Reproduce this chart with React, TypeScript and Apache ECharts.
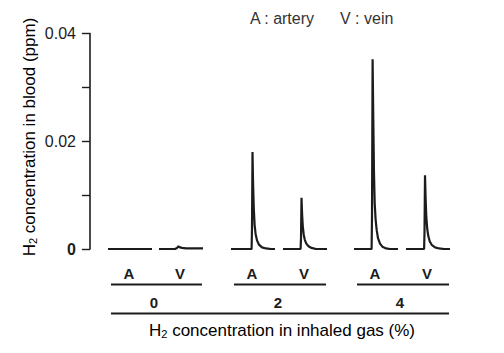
import React, { useEffect, useRef } from "react";
import * as echarts from "echarts";

// ---- data ----
const groupLabels = ["0", "2", "4"];
const vesselLabels = ["A", "V", "A", "V", "A", "V"];
const legendTexts = ["A : artery", "V : vein"];
const yTickValues = [0, 0.01, 0.02, 0.03, 0.04];
const yLabelValues = [0, 0.02, 0.04];
const yTitle = ["H", "2", " concentration in blood (ppm)"];
const xTitle = ["H", "2", " concentration in inhaled gas (%)"];

// time (relative) , H2 concentration (ppm)
const trace0A: number[][] = [[0, 0], [20, 0], [44, 0]];
const trace0V: number[][] = [[0, 0], [16, 0], [18, 0.0002], [19.5, 0.0005], [21, 0.0003], [23, 0.0002], [27, 0.0001], [44, 0.0001]];
const trace2A: number[][] = [[0, 0], [20.6, 0], [21, 0.004], [21.5, 0.018], [22.1, 0.012], [22.8, 0.0075], [23.6, 0.0045], [24.6, 0.0028], [26, 0.0016], [28, 0.0008], [31, 0.0003], [35, 0.0001], [40, 0], [44, 0]];
const trace2V: number[][] = [[0, 0], [17.6, 0], [18, 0.002], [18.5, 0.0095], [19.1, 0.0065], [19.8, 0.0042], [20.7, 0.0027], [21.8, 0.0017], [23.3, 0.001], [25.5, 0.0005], [28.5, 0.0002], [33, 0], [44, 0]];
const trace4A: number[][] = [[0, 0], [17.6, 0], [18, 0.006], [18.6, 0.0352], [19.3, 0.024], [20, 0.014], [20.7, 0.0085], [21.6, 0.0055], [22.7, 0.0035], [24, 0.002], [26, 0.001], [28.5, 0.0004], [32, 0.0001], [36, 0], [44, 0]];
const trace4V: number[][] = [[0, 0], [18.1, 0], [18.5, 0.003], [19, 0.0137], [19.6, 0.0095], [20.3, 0.006], [21.2, 0.0038], [22.3, 0.0024], [23.8, 0.0014], [26, 0.0007], [29, 0.0003], [33, 0.0001], [38, 0], [44, 0]];
const traces = [trace0A, trace0V, trace2A, trace2V, trace4A, trace4V];

// ---- layout ----
const W = 504;
const H = 353;
const FONT = "'Liberation Sans', Arial, sans-serif";
const INK = "#1c1c1c";
const plotTop = 33.5;
const plotBottom = 249;
const axisX = 90;
const traceLefts = [108, 159, 231, 283, 354, 406];
const traceWidth = 44;
const vesselLabelDx = 21;
const vesselLabelY = 273;
const groupLines = [[111, 202], [234, 326], [357, 449]];
const groupLineY = 284.5;
const groupLabelX = [154, 278, 400];
const groupLabelY = 302;
const bottomLine = [111, 449];
const bottomLineY = 313.5;
const xTitleX = 282;
const xTitleY = 330;
const yTitleX = 29;
const yTitleY = 137;
const legendX = [250, 340];
const legendY = 18;

export default function App() {
  const ref = useRef<HTMLDivElement>(null);
  useEffect(() => {
    if (!ref.current) return;
    const chart = echarts.init(ref.current, null, { renderer: "svg" });
    const gridH = plotBottom - plotTop;
    const grids: any[] = [
      { left: axisX, top: plotTop, width: 400, height: gridH },
      ...traceLefts.map((l) => ({ left: l, top: plotTop, width: traceWidth, height: gridH })),
    ];
    const xAxes: any[] = grids.map((_, i) => ({
      type: "value",
      gridIndex: i,
      min: 0,
      max: i === 0 ? 1 : 44,
      show: false,
    }));
    const yAxes: any[] = grids.map((_, i) =>
      i === 0
        ? {
            type: "value",
            gridIndex: 0,
            min: yTickValues[0],
            max: yTickValues[yTickValues.length - 1],
            interval: yTickValues[1] - yTickValues[0],
            splitLine: { show: false },
            axisLine: { show: true, lineStyle: { color: INK, width: 1.6 } },
            axisTick: { show: true, length: 8, lineStyle: { color: INK, width: 1.4 } },
            axisLabel: {
              margin: 14,
              fontFamily: FONT,
              fontSize: 16,
              color: INK,
              formatter: (v: number) => {
                const hit = yLabelValues.find((x) => Math.abs(x - v) < 1e-9);
                if (hit === undefined) return "";
                return hit === 0 ? "{b|0}" : "{r|" + String(hit) + "}";
              },
              rich: {
                b: { fontFamily: FONT, fontSize: 16, fontWeight: "bold", color: INK },
                r: { fontFamily: FONT, fontSize: 16, color: INK },
              },
            },
          }
        : { type: "value", gridIndex: i, min: 0, max: 0.04, show: false }
    );
    const series: any[] = traces.map((d, i) => ({
      type: "line",
      xAxisIndex: i + 1,
      yAxisIndex: i + 1,
      data: d,
      showSymbol: false,
      symbol: "none",
      lineStyle: { color: INK, width: 2.2 },
    }));

    const graphic: any[] = [];
    const richSub = {
      n: { fontFamily: FONT, fontSize: 17, color: "#333", lineHeight: 19 },
      s: { fontFamily: FONT, fontSize: 11, color: "#333", lineHeight: 7, verticalAlign: "bottom" },
    };
    vesselLabels.forEach((t, i) => {
      graphic.push({
        type: "text",
        x: traceLefts[i] + vesselLabelDx,
        y: vesselLabelY,
        style: { text: t, fontFamily: FONT, fontSize: 15, fontWeight: "bold", fill: INK, align: "center", verticalAlign: "middle" },
      });
    });
    groupLines.forEach((g) => {
      graphic.push({ type: "line", shape: { x1: g[0], y1: groupLineY, x2: g[1], y2: groupLineY }, style: { stroke: INK, lineWidth: 2 } });
    });
    groupLabels.forEach((t, i) => {
      graphic.push({
        type: "text",
        x: groupLabelX[i],
        y: groupLabelY,
        style: { text: t, fontFamily: FONT, fontSize: 15, fontWeight: "bold", fill: INK, align: "center", verticalAlign: "middle" },
      });
    });
    graphic.push({ type: "line", shape: { x1: bottomLine[0], y1: bottomLineY, x2: bottomLine[1], y2: bottomLineY }, style: { stroke: INK, lineWidth: 2 } });
    graphic.push({
      type: "text",
      x: xTitleX,
      y: xTitleY,
      style: {
        text: "{n|" + xTitle[0] + "}{s|" + xTitle[1] + "}{n|" + xTitle[2] + "}",
        rich: richSub,
        align: "center",
        verticalAlign: "middle",
      },
    });
    graphic.push({
      type: "text",
      x: yTitleX,
      y: yTitleY,
      rotation: Math.PI / 2,
      style: {
        text: "{n|" + yTitle[0] + "}{s|" + yTitle[1] + "}{n|" + yTitle[2] + "}",
        rich: richSub,
        align: "center",
        verticalAlign: "middle",
      },
    });
    legendTexts.forEach((t, i) => {
      graphic.push({
        type: "text",
        x: legendX[i],
        y: legendY,
        style: { text: t, fontFamily: FONT, fontSize: 16, fill: "#333", align: "left", verticalAlign: "middle" },
      });
    });

    chart.setOption({
      animation: false,
      backgroundColor: "#ffffff",
      grid: grids,
      xAxis: xAxes,
      yAxis: yAxes,
      series,
      graphic,
    });
    return () => chart.dispose();
  }, []);
  return <div ref={ref} style={{ position: "fixed", left: 0, top: 0, width: W, height: H }} />;
}
